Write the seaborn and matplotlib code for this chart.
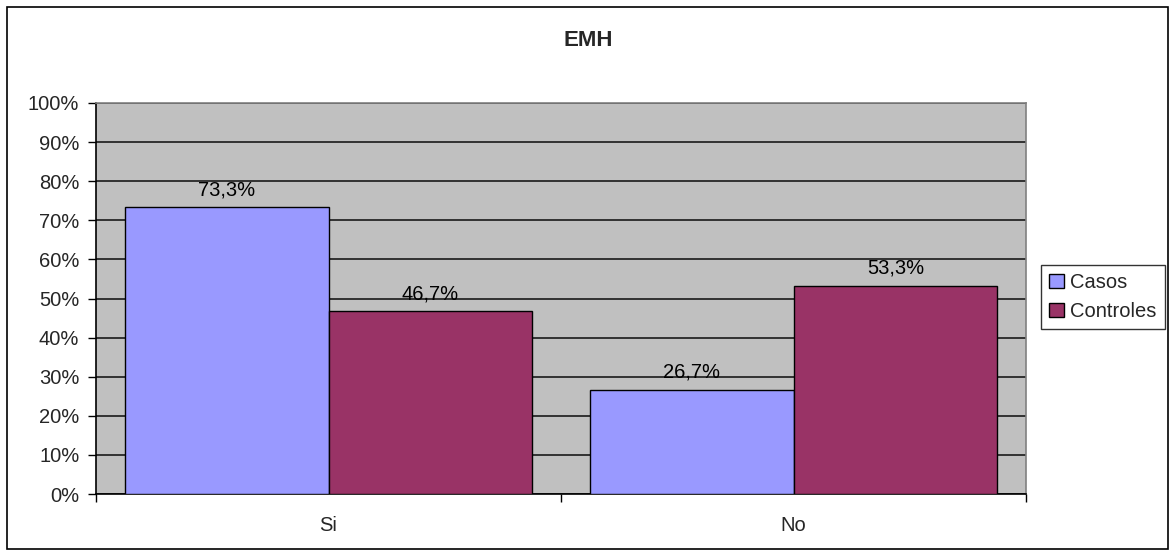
import matplotlib
matplotlib.use("Agg")
import matplotlib.pyplot as plt
from matplotlib.patches import Rectangle, Patch
from matplotlib.ticker import FixedLocator, FuncFormatter
import pandas as pd
import seaborn as sns

# data
categories = ["Si", "No"]
series = ["Casos", "Controles"]
casos = [73.3, 26.7]
controles = [46.7, 53.3]
colors = ["#9999FF", "#993366"]

df = pd.DataFrame({
    "cat": categories * 2,
    "serie": [series[0]] * 2 + [series[1]] * 2,
    "pct": casos + controles,
})

sns.set_style("white")
plt.rcParams["font.family"] = ["Liberation Sans", "DejaVu Sans"]

W, H = 1170, 555
fs = 14.5
fig = plt.figure(figsize=(W / 100, H / 100), dpi=100)

# outer chart border
fig.patches.append(Rectangle((7 / W, 1 - 549 / H), 1161 / W, 542 / H,
                             transform=fig.transFigure, fill=False,
                             edgecolor="black", lw=1.2))

ax = fig.add_axes([96 / W, 1 - 494 / H, 930 / W, 391 / H])
ax.set_facecolor("#C0C0C0")

sns.barplot(data=df, x="cat", y="pct", hue="serie", palette=colors,
            saturation=1, width=0.877, gap=0, edgecolor="black", linewidth=1,
            ax=ax, legend=False, zorder=3)

# value labels with comma decimal
for cont in ax.containers:
    labels = [f"{b.get_height():.1f}%".replace(".", ",") for b in cont]
    ax.bar_label(cont, labels=labels, padding=6, fontsize=fs, color="black")

ax.set_ylim(0, 100)
ax.set_xlim(-0.5, 1.5)
ax.set_yticks(range(0, 101, 10))
ax.yaxis.set_major_formatter(FuncFormatter(lambda v, p: f"{v:.0f}%"))
ax.yaxis.grid(True, color="#1a1a1a", lw=1.2, zorder=1)
ax.set_axisbelow(True)
ax.tick_params(axis="y", direction="out", length=6, width=1, color="black",
               labelsize=fs, pad=6, left=True)

ax.xaxis.set_minor_locator(FixedLocator([-0.5, 0.5, 1.5]))
ax.tick_params(axis="x", which="major", length=0, labelsize=fs, pad=16)
ax.tick_params(axis="x", which="minor", direction="out", length=6, width=1,
               color="black", bottom=True)

ax.set_xlabel("")
ax.set_ylabel("")

for s in ["left", "bottom"]:
    ax.spines[s].set_color("black")
    ax.spines[s].set_linewidth(1.2)
for s in ["top", "right"]:
    ax.spines[s].set_color("#808080")
    ax.spines[s].set_linewidth(1.2)

fig.text(588 / W, 1 - 40 / H, "EMH", ha="center", va="center",
         fontsize=16, fontweight="bold")

handles = [Patch(facecolor=c, edgecolor="black", lw=1) for c in colors]
leg = fig.legend(handles, series, loc="upper left",
                 bbox_to_anchor=(1041 / W, 1 - 265 / H),
                 fontsize=fs, frameon=True, fancybox=False,
                 handlelength=0.75, handleheight=0.75, handletextpad=0.3,
                 borderpad=0.4, labelspacing=0.5, borderaxespad=0)
leg.get_frame().set_edgecolor("black")
leg.get_frame().set_linewidth(1)

fig.savefig("out.png", dpi=100)
